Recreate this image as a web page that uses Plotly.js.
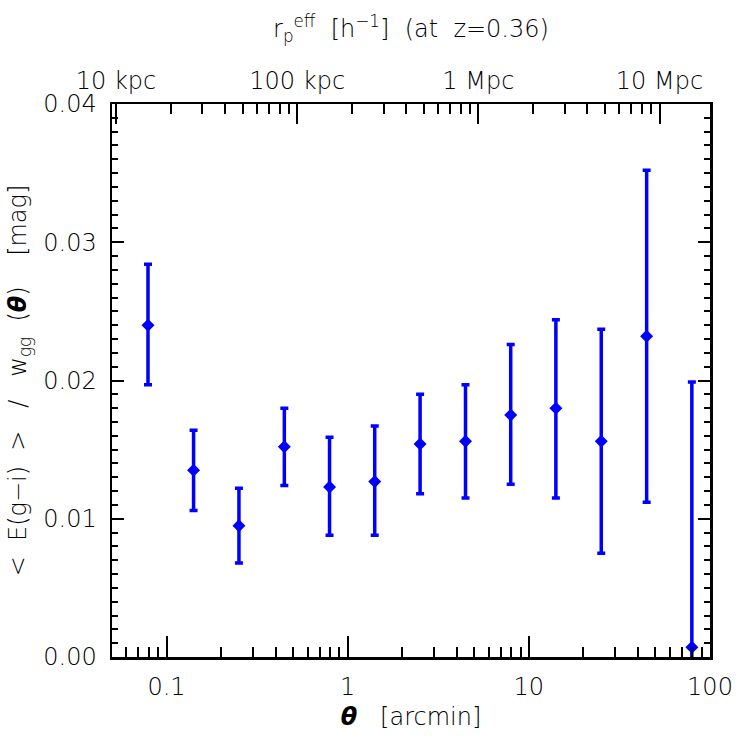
<!DOCTYPE html>
<html>
<head>
<meta charset="utf-8">
<script src="https://cdn.plot.ly/plotly-3.0.1.min.js"></script>
<style>html,body{margin:0;padding:0;background:#fff;} #chart{width:747px;height:747px;}</style>
</head>
<body>
<div id="chart"></div>
<script>
// ---- data ----
const theta = [0.079, 0.141, 0.251, 0.447, 0.794, 1.41, 2.51, 4.47, 7.94, 14.1, 25.1, 44.7, 79.4]; // arcmin
const ratio = [0.0240, 0.0135, 0.0095, 0.0152, 0.0123, 0.0127, 0.0154, 0.0156, 0.0175, 0.0180, 0.0156, 0.0232, 0.0007];
const errUp = [0.0044, 0.0029, 0.0027, 0.0028, 0.0036, 0.0040, 0.0036, 0.0041, 0.0051, 0.0064, 0.0081, 0.0120, 0.0192];
const errDn = [0.0043, 0.0029, 0.0027, 0.0028, 0.0035, 0.0039, 0.0036, 0.0041, 0.0050, 0.0065, 0.0081, 0.0120, 0.0192];
const xTickVals = [0.1, 1, 10, 100];
const xTickText = ['0.1', '1', '10', '100'];
const topTickVals = [10, 100, 1000, 10000]; // kpc/h
const topTickText = ['10 kpc', '100 kpc', '1 Mpc', '10 Mpc'];
const kpcPerArcmin = 190; // h^-1 kpc per arcmin at z=0.36
const xRange = [0.05, 100];
const yRange = [0, 0.04];

const BLUE = '#0000ff';
const FONT = {family: '"DejaVu Sans", "Liberation Sans", sans-serif', size: 24, color: '#000', weight: 200};

const traces = [
  {
    type: 'scatter', mode: 'markers',
    x: theta, y: ratio, xaxis: 'x', yaxis: 'y',
    marker: {symbol: 'diamond', size: 10, color: BLUE},
    error_y: {type: 'data', symmetric: false, array: errUp, arrayminus: errDn,
              color: BLUE, thickness: 3.5, width: 4},
    hoverinfo: 'skip', showlegend: false
  },
  {
    type: 'scatter', mode: 'markers',
    x: theta.map(t => t * kpcPerArcmin), y: ratio, xaxis: 'x2', yaxis: 'y',
    marker: {opacity: 0, size: 1}, hoverinfo: 'skip', showlegend: false
  }
];

const tickCommon = {
  ticks: 'inside', tickcolor: '#000', tickwidth: 2,
  showline: true, linecolor: '#000', linewidth: 2.5,
  showgrid: false, zeroline: false, tickfont: FONT
};

const layout = {
  width: 747, height: 747,
  margin: {l: 112, r: 37, t: 104, b: 90, pad: 0},
  paper_bgcolor: '#fff', plot_bgcolor: '#fff',
  font: FONT,
  showlegend: false,
  xaxis: Object.assign({}, tickCommon, {
    type: 'log',
    range: xRange.map(Math.log10),
    tickmode: 'array', tickvals: xTickVals, ticktext: xTickText,
    ticklen: 21, ticklabelstandoff: 7,
    mirror: false,
    minor: {dtick: 'D1', ticks: 'inside', ticklen: 10, tickwidth: 2, tickcolor: '#000', showgrid: false},
    title: {text: '<b><i>θ</i></b>   [arcmin]', font: FONT, standoff: 8}
  }),
  xaxis2: Object.assign({}, tickCommon, {
    type: 'log', overlaying: 'x', side: 'top', anchor: 'y',
    range: xRange.map(v => Math.log10(v * kpcPerArcmin)),
    tickmode: 'array', tickvals: topTickVals, ticktext: topTickText,
    ticklen: 20, ticklabelstandoff: 3,
    minor: {dtick: 'D1', ticks: 'inside', ticklen: 10, tickwidth: 2, tickcolor: '#000', showgrid: false}
  }),
  yaxis: Object.assign({}, tickCommon, {
    range: yRange,
    tickmode: 'linear', tick0: 0, dtick: 0.01, tickformat: '.2f',
    ticklen: 12, ticklabelstandoff: 8,
    mirror: 'ticks',
    minor: {dtick: 0.001, ticks: 'inside', ticklen: 6, tickwidth: 2, tickcolor: '#000', showgrid: false},
    title: {text: '<  E(g−i)  >   /   w<sub>gg</sub>  (<b><i>θ</i></b>)    [mag]', font: FONT, standoff: 10}
  }),
  annotations: [
    {xref: 'paper', yref: 'paper', x: 0.5, y: 1.0, yshift: 56, xanchor: 'center', yanchor: 'bottom',
     showarrow: false, font: FONT,
     text: 'r<sub>p</sub><sup>eff</sup>  [h<sup>−1</sup>]  (at  z=0.36)'}
  ]
};

Plotly.newPlot('chart', traces, layout, {staticPlot: true, displayModeBar: false});
</script>
</body>
</html>
